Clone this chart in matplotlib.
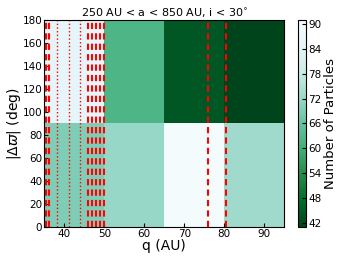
import numpy as np
import matplotlib
matplotlib.use("Agg")
import matplotlib.pyplot as plt

# bin edges
q_edges = [35, 50, 65, 80, 95]
dw_edges = [0, 90, 180]

# particle counts, rows = |dw| bins (low, high), cols = q bins
counts_low = [69, 72, 90, 73]
counts_high = [85, 62, 44, 41]

# reference lines in q (AU)
dashed_q = [35.5, 36.1, 46.0, 47.0, 48.0, 49.0, 50.0, 76.0, 80.4]
dotted_q = [38.1, 41.1, 44.0]

counts = np.array([counts_low, counts_high])

fig = plt.figure(figsize=(3.52, 2.64), dpi=100)
ax = fig.add_axes([0.126, 0.141, 0.681, 0.783])
cax = fig.add_axes([0.846, 0.141, 0.024, 0.783])

mesh = ax.pcolormesh(q_edges, dw_edges, counts, cmap="BuGn_r", vmin=41, vmax=91)

for q in dashed_q:
    ax.axvline(q, color="red", ls="--", lw=1.5, dashes=(3, 2))
for q in dotted_q:
    ax.axvline(q, color="red", ls=":", lw=1.0)

ax.set_xlim(35, 95)
ax.set_ylim(0, 180)
ax.set_xticks([40, 50, 60, 70, 80, 90])
ax.set_yticks(range(0, 181, 20))
ax.tick_params(labelsize=7.5, direction="in", length=3, pad=1.5)
ax.set_xlabel("q (AU)", fontsize=10, labelpad=0)
ax.set_ylabel(r"$|\Delta\varpi|$ (deg)", fontsize=10, labelpad=0)
ax.set_title(r"250 AU < a < 850 AU, i < 30$^{\circ}$", fontsize=8, pad=2)

cb = fig.colorbar(mesh, cax=cax, ticks=range(42, 91, 6))
cb.ax.tick_params(labelsize=7.5, direction="in", length=3, pad=1.5)
cb.set_label("Number of Particles", fontsize=9.5, labelpad=2)

fig.savefig("out.png", dpi=100)
